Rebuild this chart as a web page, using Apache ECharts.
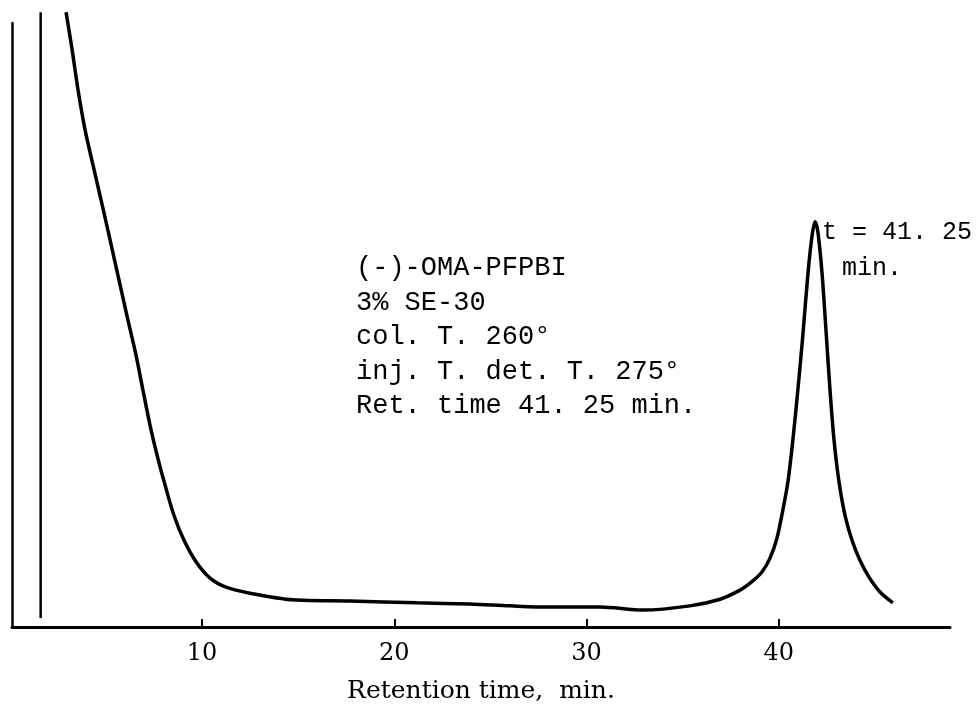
<!DOCTYPE html>
<html>
<head>
<meta charset="utf-8">
<script src="https://cdn.jsdelivr.net/npm/echarts@6/dist/echarts.min.js"></script>
<style>
html,body{margin:0;padding:0;background:#fff;}
#chart{width:978px;height:708px;}
</style>
</head>
<body>
<div id="chart"></div>
<script>
// Retention time (min) and detector response (arbitrary units, 0-100)
var times = [2.93, 3.24, 3.55, 3.92, 4.33, 4.75, 5.22, 5.68, 6.15, 6.57, 6.93, 7.30, 7.66, 8.08, 8.54,
  9.06, 9.69, 10.42, 11.25, 12.50, 14.73, 17.70, 21.18, 23.94, 26.02, 28.10, 30.70, 32.93, 35.38,
  36.94, 37.98, 38.60, 39.12, 39.54, 39.90, 40.21, 40.47, 40.73, 40.99, 41.25, 41.51, 41.72, 41.88,
  42.03, 42.24, 42.45, 42.66, 42.87, 43.13, 43.44, 43.80, 44.21, 44.68, 45.26, 45.93];
var signal = [101.8, 95.7, 89.0, 82.3, 76.5, 70.7, 64.1, 57.5, 50.8, 45.0, 39.2, 33.4, 28.5, 23.5, 18.5,
  14.4, 10.8, 8.1, 6.6, 5.6, 4.5, 4.3, 4.0, 3.8, 3.5, 3.3, 3.3, 2.8, 3.5,
  4.6, 6.1, 7.5, 9.1, 11.4, 14.7, 19.4, 24.0, 31.0, 39.3, 48.4, 58.4, 64.6, 67.1,
  65.4, 58.8, 49.2, 39.2, 30.9, 24.0, 18.5, 14.4, 11.1, 8.3, 5.8, 4.0];
// Injection marker
var injectionTime = 1.61;
var injectionSpan = [1.5, 101.8];
// Axis ticks
var tickValues = [10, 20, 30, 40];
var xMin = 0.12, xMax = 48.9;
var xTitle = 'Retention time,  min.';
var infoLines = ['(-)-OMA-PFPBI', '3% SE-30', 'col. T. 260°', 'inj. T. det. T. 275°', 'Ret. time 41. 25 min.'];
var peakLabel = ['t = 41. 25', 'min.'];

var curve = times.map(function (t, i) { return [t, signal[i]]; });
var injection = injectionSpan.map(function (v) { return [injectionTime, v]; });

var chart = echarts.init(document.getElementById('chart'), null, {renderer: 'canvas'});
chart.setOption({
  backgroundColor: '#ffffff',
  animation: false,
  grid: {left: 12, right: 28, top: 23, bottom: 81, containLabel: false, outerBoundsMode: 'none'},
  xAxis: {
    type: 'value', min: xMin, max: xMax,
    name: xTitle, nameLocation: 'middle', nameGap: 52,
    nameTextStyle: {fontFamily: 'DejaVu Serif', fontSize: 25, color: '#000'},
    axisLine: {show: true, onZero: false, lineStyle: {color: '#000', width: 3}},
    axisTick: {show: true, inside: true, length: 8, customValues: tickValues, lineStyle: {color: '#000', width: 2}},
    axisLabel: {show: true, customValues: tickValues, margin: 15, fontFamily: 'DejaVu Serif', fontSize: 24, color: '#000'},
    splitLine: {show: false}
  },
  yAxis: {
    type: 'value', min: 0, max: 100,
    axisLine: {show: true, onZero: false, lineStyle: {color: '#000', width: 2.5}},
    axisTick: {show: false}, axisLabel: {show: false}, splitLine: {show: false}
  },
  series: [
    {
      type: 'line', data: curve, smooth: 0.3, showSymbol: false, clip: false,
      lineStyle: {color: '#000', width: 3.5}
    },
    {
      type: 'line', data: injection, showSymbol: false, clip: false,
      lineStyle: {color: '#000', width: 2.5}
    }
  ],
  graphic: [
    {
      type: 'text', left: 356, top: 251,
      style: {text: infoLines.join('\n'), fontFamily: 'Liberation Mono', fontSize: 27, lineHeight: 34.5, fill: '#000'}
    },
    {
      type: 'text', left: 822, top: 215,
      style: {text: peakLabel[0], fontFamily: 'Liberation Mono', fontSize: 25, lineHeight: 34, fill: '#000'}
    },
    {
      type: 'text', left: 842, top: 251,
      style: {text: peakLabel[1], fontFamily: 'Liberation Mono', fontSize: 25, lineHeight: 34, fill: '#000'}
    }
  ]
});
</script>
</body>
</html>
